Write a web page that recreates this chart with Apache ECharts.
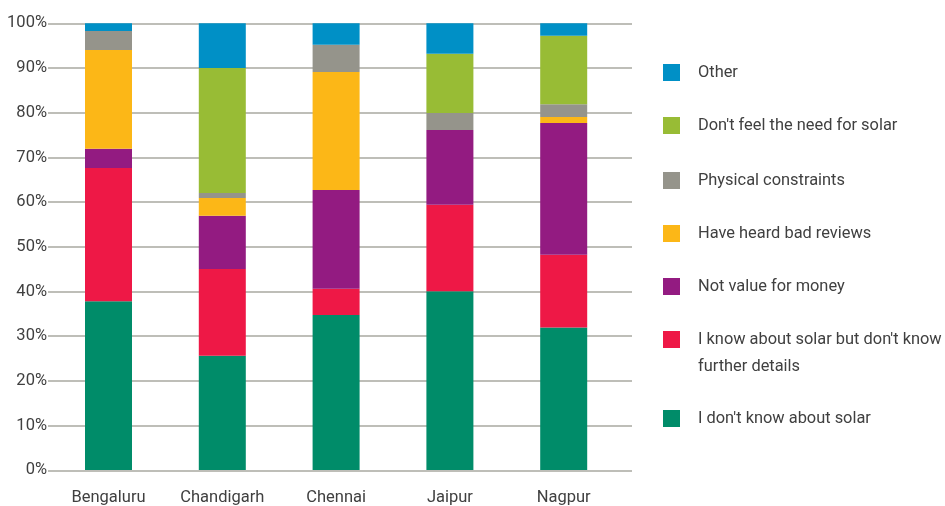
<!DOCTYPE html>
<html><head><meta charset="utf-8">
<script src="https://cdn.jsdelivr.net/npm/echarts@6/dist/echarts.min.js"></script>
<style>html,body{margin:0;padding:0;background:#fff}#c{width:945px;height:506px}</style>
</head><body><div id="c"></div>
<script>
const categories = ['Bengaluru', 'Chandigarh', 'Chennai', 'Jaipur', 'Nagpur'];
const yTicks = [0, 10, 20, 30, 40, 50, 60, 70, 80, 90, 100];
const dontKnow      = [37.8, 25.6, 34.7, 40.0, 31.9];
const knowNoDetails = [29.8, 19.4, 5.9, 19.4, 16.3];
const notValue      = [4.3, 11.9, 22.1, 16.7, 29.5];
const badReviews    = [22.1, 4.0, 26.4, 0, 1.3];
const physical      = [4.3, 1.1, 6.1, 3.8, 2.9];
const noNeed        = [0, 28.0, 0, 13.3, 15.3];
const other         = [1.7, 10.0, 4.8, 6.8, 2.8];

const seriesDefs = [
  { name: "I don't know about solar", data: dontKnow, color: '#008C69' },
  { name: "I know about solar but don't know further details", data: knowNoDetails, color: '#EE1846' },
  { name: 'Not value for money', data: notValue, color: '#931B81' },
  { name: 'Have heard bad reviews', data: badReviews, color: '#FCB717' },
  { name: 'Physical constraints', data: physical, color: '#95948B' },
  { name: "Don't feel the need for solar", data: noNeed, color: '#98BC35' },
  { name: 'Other', data: other, color: '#0090C6' }
];

const FONT = 'Roboto';
const TXT = '#404040';

// legend order top -> bottom and icon tops
const legendOrder = [6, 5, 4, 3, 2, 1, 0];
const legendTops = [64, 117, 172, 225, 278, 299, 410];

const legends = legendOrder.map((si, i) => {
  const s = seriesDefs[si];
  const multi = si === 1;
  return {
    left: 663, top: legendTops[i], orient: 'vertical', padding: 0,
    icon: 'rect', itemWidth: 17, itemHeight: 17, selectedMode: false,
    data: [{ name: s.name }],
    formatter: multi ? () => "\nI know about solar but don't know\nfurther details" : undefined,
    textStyle: {
      fontFamily: FONT, fontSize: 16.4, color: TXT,
      lineHeight: multi ? 27 : 17, padding: [0, 0, 0, 13]
    }
  };
});

const chart = echarts.init(document.getElementById('c'), null, { renderer: 'canvas' });
chart.setOption({
  animation: false,
  backgroundColor: '#fff',
  legend: legends,
  grid: [
    { left: 48, right: 313, top: 23.3, bottom: 35.7 },
    { left: 51.6, right: 324.4, top: 23.3, bottom: 35.7 }
  ],
  xAxis: [
    { type: 'category', gridIndex: 0, data: categories, show: false },
    {
      type: 'category', gridIndex: 1, data: categories,
      axisLine: { show: false }, axisTick: { show: false },
      axisLabel: { fontFamily: FONT, fontSize: 16.5, color: TXT, margin: 19 }
    }
  ],
  yAxis: [
    {
      type: 'value', gridIndex: 0, min: 0, max: 100, interval: 10,
      axisLine: { show: false }, axisTick: { show: false },
      axisLabel: { formatter: v => v + '%', fontFamily: FONT, fontSize: 16.5, color: TXT, margin: 1 },
      splitLine: { lineStyle: { color: '#A8A8A0', width: 1.5 } }
    },
    { type: 'value', gridIndex: 1, min: 0, max: 100, interval: 10, show: false }
  ],
  series: seriesDefs.map(s => ({
    name: s.name, type: 'bar', stack: 'total',
    xAxisIndex: 1, yAxisIndex: 1,
    barWidth: 47, data: s.data,
    itemStyle: { color: s.color }
  }))
});
</script>
</body></html>
